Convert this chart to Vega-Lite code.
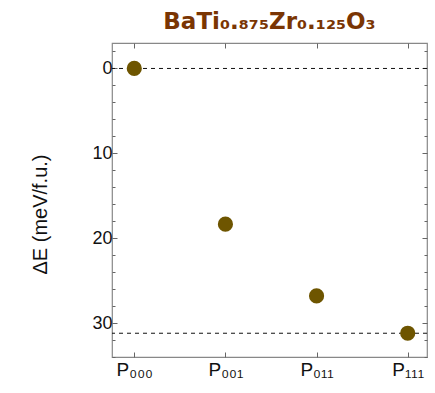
{
  "$schema": "https://vega.github.io/schema/vega-lite/v6.json",
  "width": 315,
  "height": 314,
  "autosize": "none",
  "padding": {"left": 112, "top": 43, "right": 8, "bottom": 36},
  "background": "white",
  "config": {
    "view": {"stroke": "#888888", "strokeWidth": 1.2},
    "axis": {
      "labelFont": "Liberation Sans",
      "titleFont": "Liberation Sans",
      "labelColor": "#111111",
      "titleColor": "#111111",
      "domain": false,
      "grid": false,
      "tickColor": "#666666"
    }
  },
  "title": {
    "text": "BaTi₀.₈₇₅Zr₀.₁₂₅O₃",
    "font": "DejaVu Sans",
    "fontWeight": "bold",
    "fontSize": 23,
    "color": "#7a3503",
    "anchor": "middle",
    "frame": "group",
    "offset": 9
  },
  "data": {
    "values": [
      {"state": "P₀₀₀", "dE": 0},
      {"state": "P₀₀₁", "dE": 18.35},
      {"state": "P₀₁₁", "dE": 26.8},
      {"state": "P₁₁₁", "dE": 31.2}
    ]
  },
  "layer": [
    {
      "data": {"values": [{"level": 0}, {"level": 31.2}]},
      "mark": {"type": "rule", "color": "#111111", "strokeWidth": 1, "strokeDash": [4, 4]},
      "encoding": {
        "y": {"field": "level", "type": "quantitative", "axis": null}
      }
    },
    {
      "mark": {"type": "circle", "size": 230, "opacity": 1, "color": "#6e5500"},
      "encoding": {
        "x": {
          "field": "state",
          "type": "ordinal",
          "sort": null,
          "scale": {"type": "point", "padding": 0.228, "align": 0.536},
          "axis": {
            "orient": "bottom",
            "title": null,
            "labelAngle": 0,
            "labelFontSize": 19,
            "labelPadding": 8,
            "tickSize": -5
          }
        },
        "y": {
          "field": "dE",
          "type": "quantitative",
          "scale": {"domain": [-3, 34], "reverse": true, "nice": false, "zero": false},
          "axis": {
            "orient": "left",
            "title": "ΔE (meV/f.u.)",
            "titleFontSize": 20,
            "titleFontWeight": "normal",
            "titleX": -72,
            "titleY": 171,
            "titleAlign": "center",
            "titleBaseline": "middle",
            "titleAngle": -90,
            "labelFontSize": 18,
            "labelPadding": 5,
            "values": [-2, 0, 2, 4, 6, 8, 10, 12, 14, 16, 18, 20, 22, 24, 26, 28, 30, 32, 34],
            "labelExpr": "datum.value % 10 === 0 ? datum.value : ''",
            "tickSize": {"condition": {"test": "datum.value % 10 === 0", "value": -5}, "value": -3}
          }
        }
      }
    },
    {
      "mark": {"type": "circle", "size": 230, "opacity": 0},
      "encoding": {
        "x": {
          "field": "state",
          "type": "ordinal",
          "sort": null,
          "axis": {"orient": "top", "title": null, "labels": false, "tickSize": -5}
        },
        "y": {
          "field": "dE",
          "type": "quantitative",
          "axis": {
            "orient": "right",
            "title": null,
            "labels": false,
            "values": [-2, 0, 2, 4, 6, 8, 10, 12, 14, 16, 18, 20, 22, 24, 26, 28, 30, 32, 34],
            "tickSize": {"condition": {"test": "datum.value % 10 === 0", "value": -5}, "value": -3}
          }
        }
      }
    }
  ],
  "resolve": {"axis": {"x": "independent", "y": "independent"}}
}
